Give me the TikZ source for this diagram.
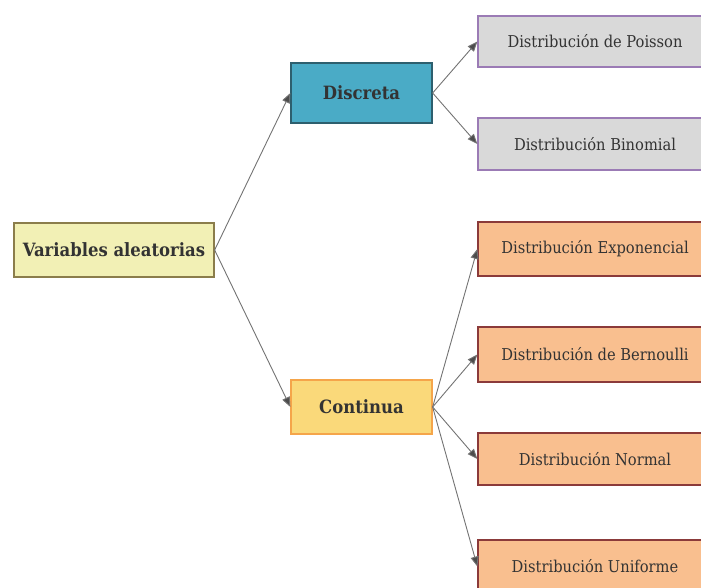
\documentclass[tikz,border=0pt]{standalone}
\usepackage{fontspec}
\setmainfont{DejaVu Serif Condensed}
\usetikzlibrary{positioning,
                arrows.meta}                % arrow tips

\definecolor{rootfill}{HTML}{F2F0B5}
\definecolor{rootline}{HTML}{8B7D4B}
\definecolor{discfill}{HTML}{4AABC6}
\definecolor{discline}{HTML}{2D5F6E}
\definecolor{contfill}{HTML}{FAD97A}
\definecolor{contline}{HTML}{F5A54A}
\definecolor{grayfill}{HTML}{D9D9D9}
\definecolor{grayline}{HTML}{9B7BB5}
\definecolor{orngfill}{HTML}{F9BF8F}
\definecolor{orngline}{HTML}{8B3A3A}
\definecolor{txt}{HTML}{333333}

\begin{document}
\begin{tikzpicture}[x=1pt, y=-1pt,
    box/.style={draw, line width=1.3pt, inner sep=0pt, text=txt, font=\fontsize{16.3}{18}\selectfont},
    headbox/.style={box, font=\fontsize{18.3}{20}\selectfont\bfseries},
    leafgray/.style={box, fill=grayfill, draw=grayline, minimum width=234pt},
    leaforng/.style={box, fill=orngfill, draw=orngline, minimum width=234pt},
    link/.style={draw=black!55, line width=0.9pt, -{Triangle[length=10pt, width=8pt, fill=black!70]}}]
      \useasboundingbox (0,0) rectangle (701,588);
      \clip (0,0) rectangle (701,588);

      \node[headbox, fill=rootfill, draw=rootline, minimum width=200pt, minimum height=54pt] (var) at (114,250) {Variables aleatorias};
      \node[headbox, fill=discfill, draw=discline, minimum width=141pt, minimum height=60pt] (disc) at (361.5,93) {Discreta};
      \node[headbox, fill=contfill, draw=contline, minimum width=141pt, minimum height=54pt] (cont) at (361.5,407) {Continua};

      \node[leafgray, minimum height=51pt] (poisson) at (595,41.5) {Distribución de Poisson};
      \node[leafgray, minimum height=52pt] (binom) at (595,144) {Distribución Binomial};
      \node[leaforng, minimum height=54pt] (expo) at (595,249) {Distribución Exponencial};
      \node[leaforng, minimum height=55pt] (bern) at (595,354.5) {Distribución de Bernoulli};
      \node[leaforng, minimum height=52pt] (normal) at (595,459) {Distribución Normal};
      \node[leaforng, minimum height=53pt] (unif) at (595,566.5) {Distribución Uniforme};

      \draw[link] (var.east) -- (disc.west);
      \draw[link] (var.east) -- (cont.west);
      \foreach \n in {poisson, binom}
      { \draw[link] (disc.east) -- (\n.west);
      }
      \foreach \n in {expo, bern, normal, unif}
      { \draw[link] (cont.east) -- (\n.west);
      }
\end{tikzpicture}
\end{document}
